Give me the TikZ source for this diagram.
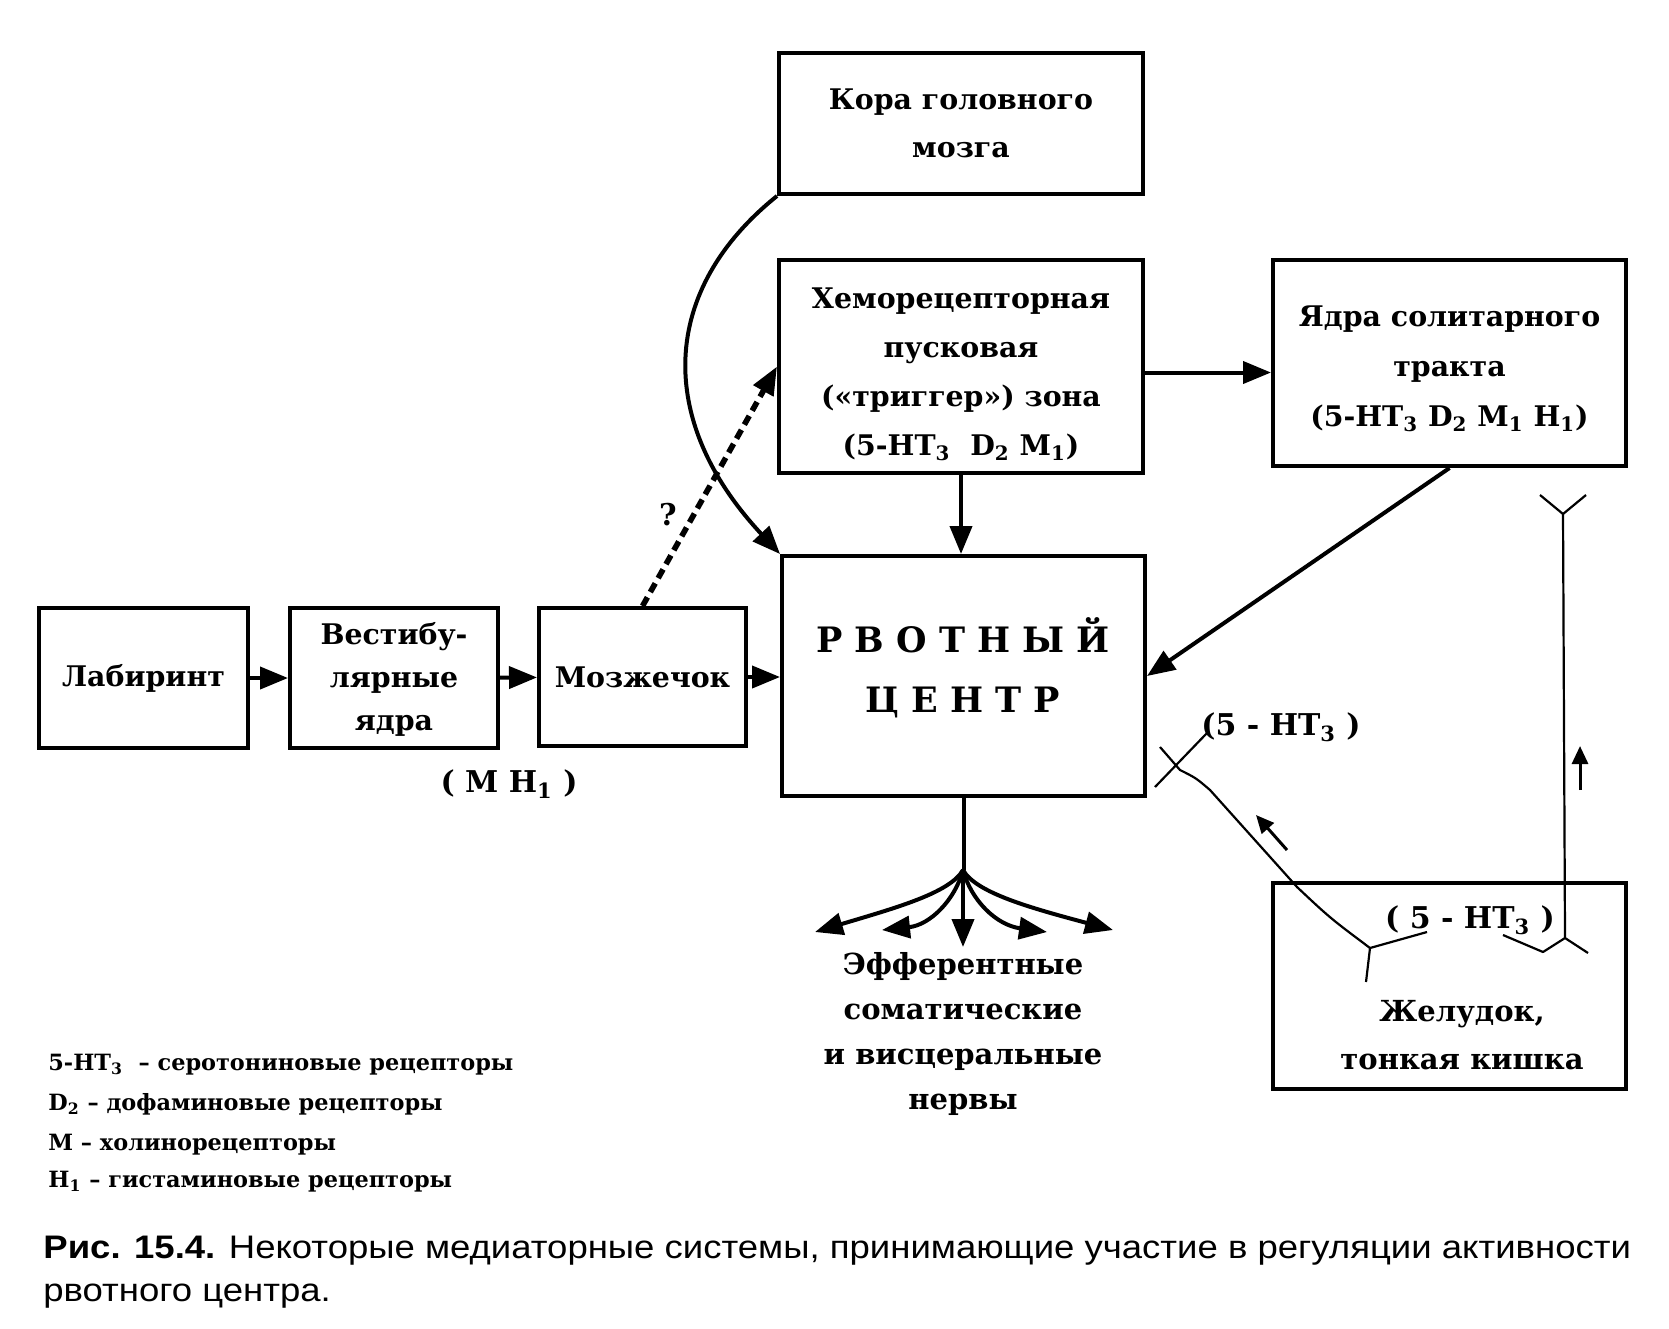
\documentclass[tikz,border=0pt]{standalone}
\usepackage{fontspec}
\setmainfont{DejaVu Serif}
\newfontfamily\capfont{Liberation Sans}[FakeStretch=1.12]
\usetikzlibrary{arrows.meta}
\begin{document}
\begin{tikzpicture}[x=0.5pt,y=-0.5pt,
  box/.style={draw, line width=2pt, inner sep=0pt, align=center,
    font=\bfseries\fontsize{14.2}{24}\selectfont},
  txt/.style={inner sep=0pt, align=center, font=\bfseries\fontsize{14.5}{24}\selectfont},
  lbl/.style={inner sep=0pt, font=\bfseries\fontsize{15}{18}\selectfont},
  leg/.style={inner sep=0pt, anchor=base west, font=\bfseries\fontsize{11.2}{12}\selectfont},
  captext/.style={inner sep=0pt, anchor=base west, font=\capfont\fontsize{16.3}{19}\selectfont},
  arr/.style={line width=2pt, -{Triangle[length=14pt,width=11pt]}},
  small arr/.style={line width=1.5pt, -{Triangle[length=9pt,width=8pt]}},
  nerve/.style={line width=1.1pt, line join=round}
]
\useasboundingbox (0,0) rectangle (1669,1328);

% boxes
\node[box, minimum width=182pt, minimum height=70.5pt] (kora) at (961,123.5) {Кора головного\\мозга};
\node[box, minimum width=182pt, minimum height=106.5pt, text height=97.7pt, text depth=9pt,
  font=\bfseries\fontsize{14.2}{24.5}\selectfont] (chemo) at (961,366.5)
  {Хеморецепторная\\пусковая\\(«триггер») зона\\(5-HT\textsubscript{3}\ \ D\textsubscript{2}\ M\textsubscript{1})};
\node[box, minimum width=176.5pt, minimum height=103pt, text height=72.6pt, text depth=9pt,
  font=\bfseries\fontsize{14.2}{25}\selectfont] (solit) at (1449.5,363)
  {Ядра солитарного\\тракта\\(5-HT\textsubscript{3} D\textsubscript{2} M\textsubscript{1} H\textsubscript{1})};
\node[box, minimum width=181.5pt, minimum height=120pt] (vc) at (963.5,676) {};
\node[txt, font=\bfseries\fontsize{17.5}{30}\selectfont] (vctxt) at (963,668) {Р В О Т Н Ы Й\\Ц Е Н Т Р};
\node[box, minimum width=104.5pt, minimum height=70pt] (lab) at (143.5,678) {Лабиринт};
\node[box, minimum width=104pt, minimum height=70pt, text height=56pt, text depth=4pt,
  font=\bfseries\fontsize{14.2}{21.5}\selectfont] (vest) at (394,678) {Вестибу-\\лярные\\ядра};
\node[box, minimum width=103.5pt, minimum height=69pt] (cereb) at (642.5,677) {Мозжечок};
\node[box, minimum width=176.5pt, minimum height=103pt] (stom) at (1449.5,986) {};
\node[txt] (stomtxt) at (1462,1035) {Желудок,\\тонкая кишка};

% labels
\node[lbl] (mh) at (509,784) {( M H\textsubscript{1} )};
\node[lbl] (q) at (668,515) {?};
\node[lbl] (ht1) at (1281,727) {(5 - HT\textsubscript{3} )};
\node[lbl] (ht2) at (1470,920) {( 5 - HT\textsubscript{3} )};

% connectors
\draw[arr] (lab) -- (vest);
\draw[arr] (vest) -- (cereb);
\draw[arr] (cereb.east) -- (cereb.east -| vc.west);
\draw[arr] (chemo.south) -- (chemo.south |- vc.north);
\draw[arr] ([yshift=-3pt]chemo.east) -- ([yshift=-3pt]chemo.east -| solit.west);
\draw[arr] (solit.south) -- (vc.east);
\draw[arr] (kora.south west) .. controls (660,290) and (655,420) .. (vc.north west);
\draw[arr, line width=2.8pt, dash pattern=on 5pt off 3pt] (cereb.north) -- (chemo.west);

% efferent fan
\coordinate (fan) at (963,870);
\coordinate (e1) at (815,932);
\coordinate (e2) at (882,930);
\coordinate (e3) at (963,947);
\coordinate (e4) at (1047,932);
\coordinate (e5) at (1113,930);
\draw[line width=2pt] (vc.south) -- (vc.south |- fan);
\draw[arr] (fan) .. controls (950,893) and (895,908) .. (e1);
\draw[arr] (fan) .. controls (955,900) and (930,925) .. (e2);
\draw[arr] (fan) -- (e3);
\draw[arr] (fan) .. controls (971,900) and (996,925) .. (e4);
\draw[arr] (fan) .. controls (976,893) and (1031,908) .. (e5);
\node[txt, font=\bfseries\fontsize{14.5}{22.5}\selectfont] (eff) at (963,1034)
  {Эфферентные\\соматические\\и висцеральные\\нервы};

% nerve from stomach to vomiting centre
\coordinate (sj1) at (1370,948);
\coordinate (b1) at (1155,787);
\coordinate (b2) at (1207,733);
\draw[nerve] (b1) -- (b2);
\draw[nerve] (1160,747) -- (1180,770) .. controls (1196,778) .. (1210,790)
  -- (1297,887) .. controls (1330,918) .. (sj1);
\draw[nerve] (sj1) -- (1427,932);
\draw[nerve] (sj1) -- (1366,982);
\coordinate (a1s) at (1287,850);
\coordinate (a1e) at (1256,815);
\draw[small arr] (a1s) -- (a1e);

% nerve from stomach upward
\coordinate (sj2) at (1565,938);
\coordinate (top) at (1563,514);
\draw[nerve] (sj2) -- (top);
\draw[nerve] (1540,495) -- (top) -- (1586,495);
\draw[nerve] (1503,935) -- (1543,952) -- (sj2) -- (1588,953);
\coordinate (a2s) at (1580,790);
\coordinate (a2e) at (1580,746);
\draw[small arr] (a2s) -- (a2e);

% legend
\node[leg] (l1) at (48,1070) {5-HT\textsubscript{3} \ – серотониновые рецепторы};
\node[leg] (l2) at (48,1110) {D\textsubscript{2} – дофаминовые рецепторы};
\node[leg] (l3) at (48,1150) {M – холинорецепторы};
\node[leg] (l4) at (48,1187) {H\textsubscript{1} – гистаминовые рецепторы};

% caption
\node[captext] (c1) at (43,1258) {\textbf{Рис. 15.4.} Некоторые медиаторные системы, принимающие участие в регуляции активности};
\node[captext] (c2) at (43,1301) {рвотного центра.};
\end{tikzpicture}
\end{document}
